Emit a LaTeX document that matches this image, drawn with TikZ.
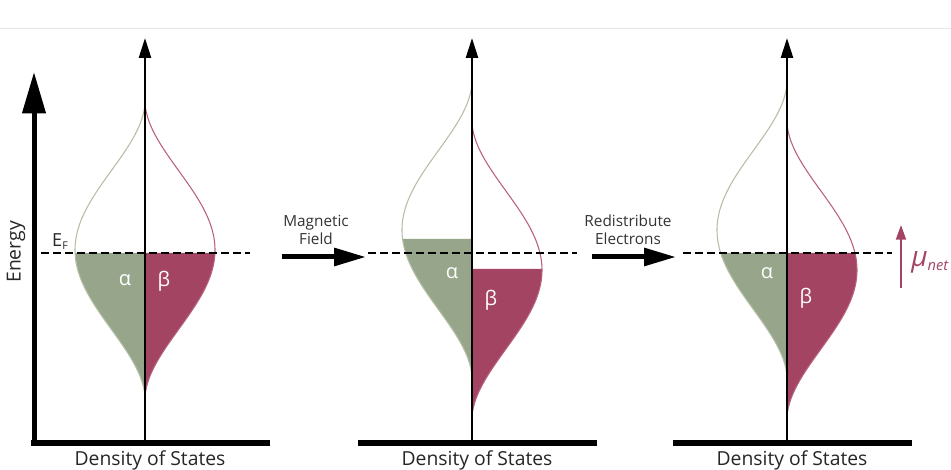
\documentclass[tikz,border=0pt]{standalone}
\usepackage{fontspec}
\setmainfont{Open Sans}
\definecolor{dosGreen}{HTML}{97A68A}
\definecolor{dosMagenta}{HTML}{A34463}
\definecolor{dosGreenLine}{HTML}{B3BEA6}
\definecolor{dosMagentaLine}{HTML}{B8607E}
\definecolor{pageRule}{HTML}{E6E6E6}
\usetikzlibrary{arrows.meta}

\tikzset{
  energy arrow/.style={line width=3.75pt, -{Triangle[length=31pt, width=17pt]}},
  axis arrow/.style={line width=1.9pt, -{Triangle[length=15pt, width=9pt]}},
  field arrow/.style={line width=3.75pt, -{Triangle[length=24pt, width=13pt]}},
  moment arrow/.style={line width=1.4pt, dosMagenta, -{Triangle[length=11pt, width=7.5pt]}},
  fermi line/.style={line width=1.4pt, dash pattern=on 6pt off 3pt},
  axis label/.style={font=\fontsize{14.5}{16}\selectfont, text=black!85},
  step label/.style={font=\fontsize{11.5}{13.5}\selectfont, align=center, text=black!80},
  spin label/.style={font=\fontsize{15}{15}\selectfont, text=white},
}

\begin{document}
\begin{tikzpicture}[x=0.75pt, y=-0.75pt,
    declare function={dosw(\t)=70*pow(cos(\t*90/148),1.8);}]
  \useasboundingbox (0,0) rectangle (951,470);

  % faint rule along the top
  \draw[pageRule, line width=0.75pt] (0,29) -- (951,29);

  % Energy axis
  \coordinate (energy base) at (34,445.5);
  \coordinate (energy tip) at (34,72);
  \draw[energy arrow] (energy base) -- (energy tip);
  \node[axis label, rotate=90] (energy) at (16,252) {Energy};
  \node[font=\fontsize{13.5}{13.5}\selectfont, text=black!85, anchor=base] (ef) at (60,247)
    {E{\fontsize{8}{8}\selectfont\raisebox{-0.45ex}{F}}};

  % Three density of states panels
  \foreach \cx/\ga/\gb/\oa/\ob/\ay/\by/\n in
      {145/250/250/3/3/280/281/1, 472/230/270/9/-1/273/300/2, 787/230/270/23/-17/273/298/3}{
    % filled states, alpha (left) and beta (right)
    \begin{scope}[shift={(\cx,\ga)}]
      \fill[dosGreen] (0,\oa) -- plot[domain=\oa:147, samples=70] ({-dosw(\x)},\x) -- cycle;
      \draw[dosGreenLine, line width=0.8pt] plot[domain=-147:147, samples=100] ({-dosw(\x)},\x);
    \end{scope}
    \begin{scope}[shift={(\cx,\gb)}]
      \fill[dosMagenta] (0,\ob) -- plot[domain=\ob:147, samples=70] ({dosw(\x)},\x) -- cycle;
      \draw[dosMagentaLine, line width=0.8pt] plot[domain=-147:147, samples=100] ({dosw(\x)},\x);
    \end{scope}

    % axes
    \coordinate (dos base \n) at (\cx,443);
    \coordinate (dos tip \n) at (\cx,38);
    \draw[axis arrow] (dos base \n) -- (dos tip \n);
    \draw[line width=4pt] (\cx-114,443) -- (\cx+125,443);

    % Fermi level
    \coordinate (ef left \n) at (\cx-104,253);
    \coordinate (ef right \n) at (\cx+105,253);
    \draw[fermi line] (ef left \n) -- (ef right \n);

    % Labels
    \node[spin label] (alpha \n) at (\cx-20,\ay) {α};
    \node[spin label] (beta \n) at (\cx+19,\by) {β};
    \node[axis label, anchor=base] (dos \n) at (\cx+5,466) {Density of States};
  }

  % Steps between panels
  \coordinate (field start) at (282,257);
  \coordinate (field end) at (366,257);
  \draw[field arrow] (field start) -- (field end);
  \node[step label] (field) at (316,230) {Magnetic\\Field};

  \coordinate (move start) at (592,257);
  \coordinate (move end) at (676,257);
  \draw[field arrow] (move start) -- (move end);
  \node[step label] (move) at (628,230) {Redistribute\\Electrons};

  % Net moment
  \coordinate (mu base) at (901,288);
  \coordinate (mu tip) at (901,225);
  \draw[moment arrow] (mu base) -- (mu tip);
  \node[anchor=base west, text=dosMagenta, inner sep=0pt] (mu) at (911,267)
    {\fontsize{21}{21}\selectfont\itshape μ\fontsize{11}{11}\selectfont\raisebox{-0.5ex}{net}};
\end{tikzpicture}
\end{document}
